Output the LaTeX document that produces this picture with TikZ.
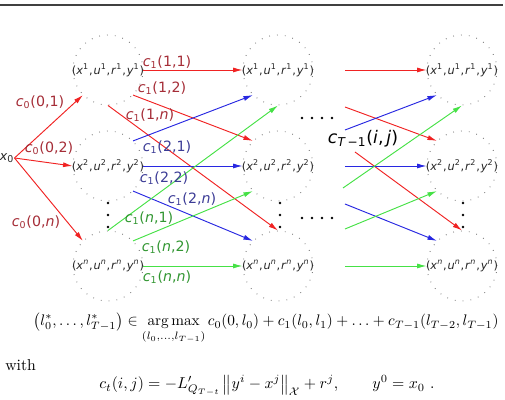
\documentclass[tikz,border=0pt]{standalone}
\usepackage{amsmath}
\usepackage{fontspec}
\usetikzlibrary{arrows.meta}
\newfontfamily\labfont{DejaVu Sans}
\definecolor{lred}{RGB}{240,35,35}
\definecolor{lblue}{RGB}{40,40,225}
\definecolor{lgreen}{RGB}{70,225,70}
\definecolor{tred}{RGB}{165,45,55}
\definecolor{tblue}{RGB}{60,60,150}
\definecolor{tgreen}{RGB}{50,150,50}
\newcommand{\clab}[3]{\textit{c}\textsubscript{#1}(#2,#3)}
\newcommand{\stt}[1]{(\textit{x}\textsuperscript{#1},\kern0.6pt\textit{u}\textsuperscript{#1},\kern0.6pt\textit{r}\textsuperscript{#1},\kern0.6pt\textit{y}\textsuperscript{#1})}
\tikzset{
    state/.style={circle, draw=gray, dash pattern=on 0.5pt off 4.5pt, line width=0.6pt, minimum size=44.4pt, inner sep=0pt},
    stxt/.style={font=\labfont\fontsize{7.2}{8}\selectfont, text=black!85, inner sep=0pt},
    lab/.style={font=\labfont\fontsize{9}{10}\selectfont, inner sep=0pt},
    arr/.style={line width=0.6pt, -{Latex[length=6pt,width=3.2pt]}}
}

\begin{document}
\begin{tikzpicture}[x=0.634pt, y=-0.634pt]
            \useasboundingbox (0,0) rectangle (505,400);
            \draw[line width=0.8pt, black!75] (0,5) -- (503,5);
            \foreach \cx/\col in {108/1,278/2,462/3}
                \foreach \ry/\row/\rs in {70/1/1,166/2/2,266/n/{\textit{n}}} {
                    \node[state] (c\col\row) at (\cx,\ry) {};
                    \node[stxt] (t\col\row) at (\cx,\ry) {\stt{\rs}};
                }
            \foreach \cx in {108,280,463}
                \foreach \cy in {203,215,227}
                    \fill (\cx,\cy) circle (0.8pt);
            \foreach \i in {0,...,3} {
                \fill (302+10*\i,118) circle (0.8pt);
                \fill (302+10*\i,218) circle (0.8pt);
            }
            \node[stxt, font=\labfont\fontsize{8}{9}\selectfont] (x0) at (7,158) {\textit{x}\textsubscript{0}};
            \draw[arr, lred] (x0.east) -- (c11.-135);
            \draw[arr, lred] (x0.east) -- (c12.west);
            \draw[arr, lred] (x0.east) -- (c1n.135);
            \node[lab, text=tred] (l01) at (40,102) {\clab{0}{0}{1}};
            \node[lab, text=tred] (l02) at (49,148) {\clab{0}{0}{2}};
            \node[lab, text=tred] (l0n) at (36,222) {\clab{0}{0}{\textit{n}}};
            \draw[arr, lred] (c11.east) -- (c21.west);
            \draw[arr, lred] (c11.-45) -- (c22.135);
            \draw[arr, lred] (c11.south) -- (c2n.north);
            \draw[arr, lblue] (c12.45) -- (c21.-135);
            \draw[arr, lblue] (c12.east) -- (c22.west);
            \draw[arr, lblue] (c12.-45) -- (c2n.135);
            \draw[arr, lgreen] (c1n.north) -- (c21.south);
            \draw[arr, lgreen] (c1n.45) -- (c22.-135);
            \draw[arr, lgreen] (c1n.east) -- (c2n.west);
            \node[lab, text=tred] (l11) at (167,62) {\clab{1}{1}{1}};
            \node[lab, text=tred] (l12) at (162,88) {\clab{1}{1}{2}};
            \node[lab, text=tred] (l1n) at (150,115) {\clab{1}{1}{\textit{n}}};
            \node[lab, text=tblue] (l21) at (167,147) {\clab{1}{2}{1}};
            \node[lab, text=tblue] (l22) at (164,178) {\clab{1}{2}{2}};
            \node[lab, text=tblue] (l2n) at (192,199) {\clab{1}{2}{\textit{n}}};
            \node[lab, text=tgreen] (ln1) at (149,218) {\clab{1}{\textit{n}}{1}};
            \node[lab, text=tgreen] (ln2) at (166,247) {\clab{1}{\textit{n}}{2}};
            \node[lab, text=tgreen] (lnn) at (167,277) {\clab{1}{\textit{n}}{\textit{n}}};
            \coordinate (r1) at (345,70);
            \coordinate (r2) at (345,107);
            \coordinate (r3) at (355,152);
            \coordinate (b1) at (345,130);
            \coordinate (b2) at (345,166);
            \coordinate (b3) at (345,204);
            \coordinate (g1) at (343,188);
            \coordinate (g2) at (345,229);
            \coordinate (g3) at (345,266);
            \draw[arr, lred] (r1) -- (c31.west);
            \draw[arr, lred] (r2) -- (c32.135);
            \draw[arr, lred] (r3) -- (c3n.north);
            \draw[arr, lblue] (b1) -- (c31.-135);
            \draw[arr, lblue] (b2) -- (c32.west);
            \draw[arr, lblue] (b3) -- (c3n.135);
            \draw[arr, lgreen] (g1) -- (c31.south);
            \draw[arr, lgreen] (g2) -- (c32.-135);
            \draw[arr, lgreen] (g3) -- (c3n.west);
            \node[font=\labfont\fontsize{11}{13}\selectfont, inner sep=0pt] (lT) at (363,139) {\textit{c}\textsubscript{\textit{T}\,−1}(\textit{i},\,\textit{j})};
            \node[anchor=base, inner sep=0pt] (eqa) at (266,326) {\scalebox{0.97}{$\displaystyle \left(l_0^*,\ldots,l_{T-1}^*\right) \in \operatorname*{arg\,max}_{(l_0,\ldots,l_{T-1})} c_0(0,l_0)+c_1(l_0,l_1)+\ldots+c_{T-1}(l_{T-2},l_{T-1})$}};
            \node[anchor=base west, inner sep=0pt] (with) at (5,371) {with};
            \node[anchor=base, inner sep=0pt] (eqb) at (267,389) {$\displaystyle c_t(i,j)=-L'_{Q_{T-t}}\left\|y^i-x^j\right\|_{\mathcal{X}}+r^j, \qquad y^0=x_0\ .$};
        \end{tikzpicture}
\end{document}
